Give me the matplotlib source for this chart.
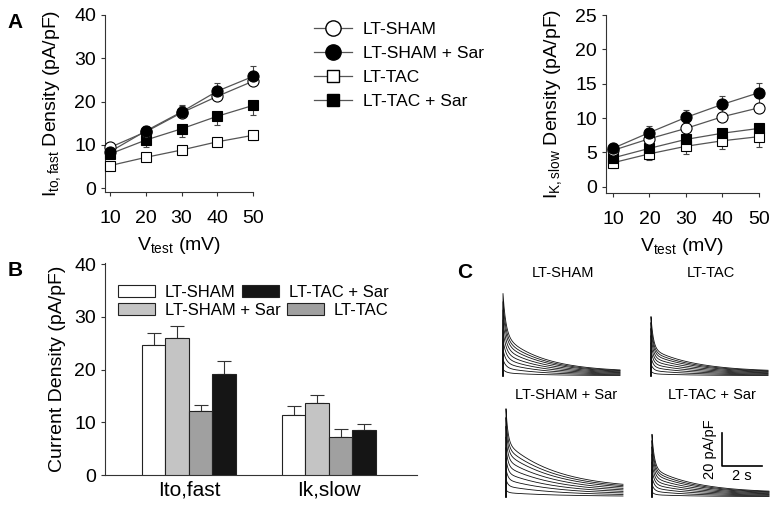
import numpy as np
import matplotlib
matplotlib.use("Agg")
import matplotlib.pyplot as plt
from matplotlib.lines import Line2D
from matplotlib.patches import Patch

plt.rcParams['font.family'] = ['Liberation Sans', 'DejaVu Sans']
plt.rcParams['mathtext.fontset'] = 'custom'
plt.rcParams['mathtext.rm'] = 'Liberation Sans'
plt.rcParams['mathtext.it'] = 'Liberation Sans'

# ---------------- data ----------------
vtest = [10, 20, 30, 40, 50]
groups = ['LT-SHAM', 'LT-SHAM + Sar', 'LT-TAC', 'LT-TAC + Sar']

ito_sham = [9.4, 13.0, 17.4, 21.2, 24.7]
ito_sham_sar = [8.4, 13.2, 17.6, 22.4, 25.8]
ito_tac = [5.2, 7.1, 8.8, 10.7, 12.2]
ito_tac_sar = [7.9, 11.1, 13.7, 16.6, 19.1]
ito_sham_err = [0.9, 1.2, 1.5, 2.0, 2.2]
ito_sham_sar_err = [0.9, 1.2, 1.5, 2.0, 2.3]
ito_tac_err = [0.5, 0.6, 0.8, 0.9, 1.1]
ito_tac_sar_err = [0.8, 1.5, 1.8, 2.1, 2.3]

ik_sham = [5.3, 7.0, 8.5, 10.2, 11.5]
ik_sham_sar = [5.6, 7.9, 10.1, 12.0, 13.7]
ik_tac = [3.5, 4.8, 5.9, 6.7, 7.3]
ik_tac_sar = [4.2, 5.6, 6.9, 7.8, 8.5]
ik_sham_err = [0.6, 0.8, 1.0, 1.2, 1.5]
ik_sham_sar_err = [0.7, 0.9, 1.1, 1.2, 1.4]
ik_tac_err = [0.8, 0.9, 1.1, 1.2, 1.5]
ik_tac_sar_err = [0.5, 0.6, 0.8, 0.9, 1.1]

bar_currents = ['Ito,fast', 'Ik,slow']
bar_sham = [24.7, 11.4]
bar_sham_sar = [26.0, 13.6]
bar_tac = [12.2, 7.3]
bar_tac_sar = [19.2, 8.5]
bar_sham_err = [2.2, 1.6]
bar_sham_sar_err = [2.3, 1.5]
bar_tac_err = [1.1, 1.5]
bar_tac_sar_err = [2.4, 1.1]

# panel C: representative current traces (bi-exponential decay parameters)
trace_groups = ['LT-SHAM', 'LT-TAC', 'LT-SHAM + Sar', 'LT-TAC + Sar']
trace_fast_amp = [25.5, 19.5, 20.5, 20.5]
trace_fast_tau = [0.15, 0.12, 0.10, 0.12]
trace_slow_amp = [22.0, 14.0, 28.0, 15.0]
trace_slow_tau = [2.0, 2.2, 2.5, 2.2]
trace_ss = [2.5, 2.5, 5.0, 2.5]
trace_scales = [0.08, 0.2, 0.32, 0.44, 0.56, 0.68, 0.8, 0.9, 1.0]
trace_duration = 5.85

W, H = 775, 507
fig = plt.figure(figsize=(W / 100, H / 100), dpi=100)


def fax(x0, y0, x1, y1):
    return fig.add_axes([x0 / W, 1 - y1 / H, (x1 - x0) / W, (y1 - y0) / H])


def style_axes(ax, fs):
    for s in ['top', 'right']:
        ax.spines[s].set_visible(False)
    for s in ['left', 'bottom']:
        ax.spines[s].set_linewidth(0.8)
        ax.spines[s].set_color('#333333')
    ax.tick_params(direction='out', length=3, width=0.8, colors='#333333',
                   labelsize=fs, labelcolor='black')


line_c = '#555555'


def plot_series(ax, y, err, marker, face, ms, up):
    yerr = [np.zeros(len(err)), err] if up else [err, np.zeros(len(err))]
    ax.errorbar(vtest, y, yerr=yerr, fmt='none', ecolor='#444444',
                elinewidth=0.8, capsize=2.5, capthick=0.8, clip_on=False, zorder=2)
    ax.plot(vtest, y, '-', color=line_c, lw=0.9, zorder=3, clip_on=False)
    ax.plot(vtest, y, marker, mfc=face, mec='black', mew=0.8, ms=ms, ls='none',
            zorder=4, clip_on=False)


# ---------------- Panel A left ----------------
axA1 = fax(105, 15, 253, 192)
style_axes(axA1, 14)
plot_series(axA1, ito_tac, ito_tac_err, 's', 'white', 6.5, False)
plot_series(axA1, ito_tac_sar, ito_tac_sar_err, 's', 'black', 6.5, False)
plot_series(axA1, ito_sham, ito_sham_err, 'o', 'white', 8, True)
plot_series(axA1, ito_sham_sar, ito_sham_sar_err, 'o', 'black', 8, True)
axA1.set_xlim(8.6, 50)
axA1.set_ylim(-0.9, 40)
axA1.set_xticks(vtest)
axA1.set_yticks([0, 10, 20, 30, 40])
axA1.tick_params(axis='x', pad=10)
axA1.set_xlabel(r'V$_\mathregular{test}$ (mV)', fontsize=14, labelpad=6)
axA1.set_ylabel(r'I$_\mathregular{to,fast}$ Density (pA/pF)', fontsize=14, labelpad=8)

# ---------------- Panel A right ----------------
axA2 = fax(606, 15, 759, 193)
style_axes(axA2, 14)
plot_series(axA2, ik_tac, ik_tac_err, 's', 'white', 6.5, False)
plot_series(axA2, ik_tac_sar, ik_tac_sar_err, 's', 'black', 6.5, False)
plot_series(axA2, ik_sham, ik_sham_err, 'o', 'white', 8, True)
plot_series(axA2, ik_sham_sar, ik_sham_sar_err, 'o', 'black', 8, True)
axA2.set_xlim(8.1, 50)
axA2.set_ylim(-0.9, 25)
axA2.set_xticks(vtest)
axA2.set_yticks([0, 5, 10, 15, 20, 25])
axA2.tick_params(axis='x', pad=10)
axA2.set_xlabel(r'V$_\mathregular{test}$ (mV)', fontsize=14, labelpad=6)
axA2.set_ylabel(r'I$_\mathregular{K,slow}$ Density (pA/pF)', fontsize=14, labelpad=8)

# legend for panel A
handles = [
    Line2D([], [], color=line_c, lw=0.9, marker='o', mfc='white', mec='black', ms=11),
    Line2D([], [], color=line_c, lw=0.9, marker='o', mfc='black', mec='black', ms=11),
    Line2D([], [], color=line_c, lw=0.9, marker='s', mfc='white', mec='black', ms=9),
    Line2D([], [], color=line_c, lw=0.9, marker='s', mfc='black', mec='black', ms=9),
]
fig.legend(handles, groups, loc='upper left', bbox_to_anchor=(314 / W, 1 - 22 / H),
           frameon=False, fontsize=12.5, handlelength=2.2, handletextpad=0.6,
           labelspacing=0.5, borderpad=0, borderaxespad=0)

# ---------------- Panel B ----------------
axB = fax(105, 263, 417, 475)
style_axes(axB, 14)
x = np.arange(len(bar_currents))
bw = 0.168
bar_vals = [bar_sham, bar_sham_sar, bar_tac, bar_tac_sar]
bar_errs = [bar_sham_err, bar_sham_sar_err, bar_tac_err, bar_tac_sar_err]
bar_cols = ['white', '#c4c4c4', '#a0a0a0', '#151515']
for i, (vals, errs, col) in enumerate(zip(bar_vals, bar_errs, bar_cols)):
    pos = x + (i - 1.5) * bw
    axB.bar(pos, vals, width=bw, color=col, edgecolor='#222222', linewidth=0.8, zorder=3)
    axB.errorbar(pos, vals, yerr=[np.zeros(len(errs)), errs], fmt='none',
                 ecolor='#333333', elinewidth=0.8, capsize=5, capthick=0.8, zorder=2)
axB.set_xlim(-0.6, 1.63)
axB.set_ylim(0, 40.2)
axB.set_yticks([0, 10, 20, 30, 40])
axB.set_xticks(x)
axB.set_xticklabels(bar_currents, fontsize=15)
axB.tick_params(axis='x', length=0, pad=4)
axB.set_ylabel('Current Density (pA/pF)', fontsize=14, labelpad=6)

leg_patches = [Patch(facecolor=c, edgecolor='#222222', linewidth=0.8) for c in bar_cols]
leg_kw = dict(ncol=2, loc='upper left', bbox_transform=fig.transFigure, frameon=False,
              fontsize=12, handlelength=2.2, handleheight=0.72, handletextpad=0.6,
              columnspacing=0.4, borderpad=0, borderaxespad=0)
leg1 = axB.legend([leg_patches[0], leg_patches[3]], [groups[0], groups[3]],
                  bbox_to_anchor=(118 / W, 1 - 285 / H), **leg_kw)
axB.add_artist(leg1)
axB.legend([leg_patches[1], leg_patches[2]], [groups[1], groups[2]],
           bbox_to_anchor=(118 / W, 1 - 303 / H), **leg_kw)

# ---------------- Panel C ----------------
t = np.linspace(0, trace_duration, 600)
ax_pos = [(503, 376), (651, 376), (506, 497), (652, 497)]
title_y = [273, 273, 395, 395]
trace_axes = []
for k, name in enumerate(trace_groups):
    x0, yb = ax_pos[k]
    ax = fax(x0, yb - 55 * 1.65, x0 + 120, yb)
    ax.set_xlim(0, 6)
    ax.set_ylim(0, 55)
    ax.axis('off')
    for s in trace_scales:
        cur = s * (trace_fast_amp[k] * np.exp(-t / trace_fast_tau[k])
                   + trace_slow_amp[k] * np.exp(-t / trace_slow_tau[k]) + trace_ss[k])
        ax.plot(np.r_[0, t], np.r_[0, cur], color='#111111', lw=0.6, clip_on=False)
    fig.text((x0 + 60) / W, 1 - title_y[k] / H, name, ha='center', va='center', fontsize=10.5)
    trace_axes.append(ax)

# scale bar (20 pA/pF, 2 s)
sb = trace_axes[3]
sb.plot([3.5, 3.5, 5.5], [39, 19, 19], color='black', lw=1.2, clip_on=False)
sb.text(2.9, 29, '20 pA/pF', rotation=90, ha='center', va='center', fontsize=10.5)
sb.text(4.5, 12.5, '2 s', ha='center', va='center', fontsize=10.5)

# panel letters
fig.text(15 / W, 1 - 22 / H, 'A', fontsize=15, fontweight='bold', ha='center', va='center')
fig.text(15 / W, 1 - 270 / H, 'B', fontsize=15, fontweight='bold', ha='center', va='center')
fig.text(465 / W, 1 - 272 / H, 'C', fontsize=15, fontweight='bold', ha='center', va='center')

fig.savefig('out.png', dpi=100)
